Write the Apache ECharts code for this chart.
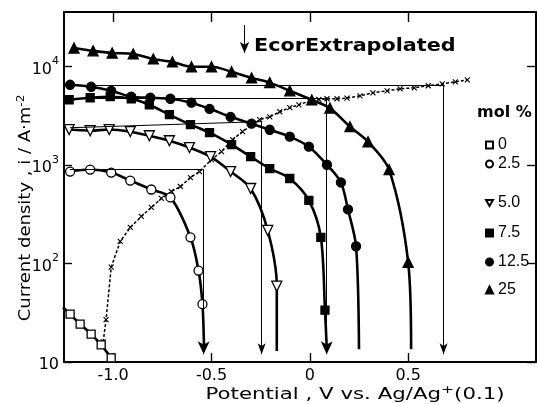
<!DOCTYPE html>
<html>
<head>
<meta charset="utf-8">
<script src="https://cdn.jsdelivr.net/npm/echarts@6/dist/echarts.min.js"></script>
<style>
  html, body { margin: 0; padding: 0; background: #fff; }
  #chart { width: 537px; height: 404px; }
</style>
</head>
<body>
<div id="chart"></div>
<script>
// Axis ticks
const xTicks = [-1.0, -0.5, 0, 0.5];
const xTickLabels = ['-1.0', '-0.5', '0', '0.5'];
const yTicks = [10, 100, 1000, 10000];

// Mole fraction of the additive, one curve each
const compositions = ['0', '2.5', '5.0', '7.5', '12.5', '25'];

// Measured points: [potential / V, current density / A m^-2]
const pts0 = [[-1.219, 30.6], [-1.168, 24.3], [-1.112, 19.2], [-1.061, 14.9], [-1.010, 11.0]];
const pts2_5 = [[-1.219, 861], [-1.117, 902], [-1.010, 841], [-0.913, 698], [-0.806, 566],
                [-0.709, 470], [-0.607, 185], [-0.566, 85], [-0.546, 38.7]];
const pts5_0 = [[-1.224, 2300], [-1.117, 2240], [-1.020, 2300], [-0.913, 2190], [-0.816, 1990],
                [-0.714, 1770], [-0.612, 1510], [-0.505, 1220], [-0.403, 861], [-0.301, 579],
                [-0.214, 217], [-0.168, 58.9]];
const pts7_5 = [[-1.224, 4620], [-1.117, 4840], [-1.015, 4960], [-0.908, 4730], [-0.816, 4110],
                [-0.714, 3260], [-0.607, 2580], [-0.510, 2140], [-0.398, 1620], [-0.301, 1220],
                [-0.204, 924], [-0.102, 732], [-0.005, 438], [0.056, 185], [0.077, 33.6]];
const pts12_5 = [[-1.219, 6560], [-1.112, 6260], [-1.010, 5700], [-0.908, 4960], [-0.811, 4840],
                 [-0.709, 4730], [-0.602, 4310], [-0.510, 3740], [-0.403, 3100], [-0.296, 2640],
                 [-0.204, 2290], [-0.102, 1950], [-0.005, 1540], [0.087, 1010], [0.158, 667],
                 [0.194, 355], [0.235, 150]];
const pts25 = [[-1.199, 15500], [-1.102, 14500], [-1.005, 13800], [-0.898, 13500], [-0.796, 12000],
               [-0.699, 11200], [-0.602, 10000], [-0.500, 10000], [-0.398, 8900], [-0.296, 7700],
               [-0.204, 6900], [-0.102, 5700], [0.010, 4600], [0.102, 3800], [0.204, 2460],
               [0.296, 1730], [0.403, 900], [0.500, 103]];

// Ends of the fitted curves beyond the measured points
const head0 = [-1.255, 36];
const tail0 = [-0.995, 10];
const tail2_5 = [-0.538, 14];
const tail5_0 = [-0.168, 12.9];
const tail7_5 = [0.086, 14];
const tail12_5 = [0.250, 13.5];
const tail25 = [0.515, 13.5];

// Corrosion potential locus (dashed, x marks)
const ecor = [[-1.051, 16], [-1.036, 27], [-1.010, 92], [-0.964, 168], [-0.913, 233], [-0.857, 301],
              [-0.806, 372], [-0.755, 459], [-0.704, 540], [-0.658, 607], [-0.607, 749], [-0.561, 861],
              [-0.500, 1140], [-0.449, 1370], [-0.393, 1820], [-0.342, 2190], [-0.255, 2900],
              [-0.204, 3100], [-0.153, 3490], [-0.102, 3840], [-0.056, 4100], [0.000, 4500],
              [0.046, 4650], [0.087, 4730], [0.138, 4730], [0.189, 4800], [0.255, 5070],
              [0.321, 5440], [0.393, 5700], [0.459, 5970], [0.531, 6110], [0.602, 6410],
              [0.673, 6710], [0.740, 7030], [0.801, 7360]];

// Limiting-current construction lines and extrapolated corrosion potentials
const guideStart = [[-1.22, 900], [-1.22, 2400], [-1.22, 4840], [-1.22, 6560]];
const guideEnd = [[-0.54, 900], [-0.245, 2770], [0.086, 4840], [0.68, 6560]];
const guideArrowTip = 12;
const noteArrow = [[-0.332, 26500], [-0.332, 13800]];

const FONT = '"Liberation Sans", Arial, sans-serif';
const WIDE = '"DejaVu Sans", sans-serif';

const curves = [
  [head0, ...pts0, tail0],
  [...pts2_5, tail2_5],
  [...pts5_0, tail5_0],
  [...pts7_5, tail7_5],
  [...pts12_5, tail12_5],
  [...pts25, tail25]
];
const markers = [pts0, pts2_5, pts5_0, pts7_5, pts12_5, pts25];
const DOWN_TRIANGLE = 'path://M0,0L12,0L6,10.4Z';
const symbols = [
  { symbol: 'rect', size: 8, fill: '#fff' },
  { symbol: 'circle', size: 9, fill: '#fff' },
  { symbol: DOWN_TRIANGLE, size: 10, fill: '#fff' },
  { symbol: 'rect', size: 8, fill: '#000' },
  { symbol: 'circle', size: 9, fill: '#000' },
  { symbol: 'triangle', size: 10, fill: '#000' }
];

const series = [];
curves.forEach((c, k) => {
  series.push({
    type: 'line', id: 'curve' + k, data: c, symbol: 'none', smooth: 0.3,
    lineStyle: { color: '#000', width: 2.6 }, silent: true, z: 3
  });
});
markers.forEach((m, k) => {
  const s = symbols[k];
  series.push({
    type: 'scatter', name: compositions[k], data: m,
    symbol: s.symbol, symbolSize: s.size,
    itemStyle: { color: s.fill, borderColor: '#000', borderWidth: 1.3, opacity: 1 },
    z: 4
  });
});

const guideLines = guideStart.map((p, k) => [
  { coord: p, symbol: 'none' },
  { coord: guideEnd[k], symbol: 'none' }
]);
const arrowLines = guideEnd.map((p, k) => [
  { coord: p, symbol: 'none' },
  { coord: [p[0], guideArrowTip], symbol: 'arrow', symbolSize: k === 0 || k === 2 ? [9, 13] : [6, 11] }
]);
const noteLine = [[
  { coord: noteArrow[0], symbol: 'none' },
  { coord: noteArrow[1], symbol: 'arrow', symbolSize: [7, 11] }
]];

series.push({
  type: 'line', id: 'ecor', data: ecor,
  symbol: 'path://M0,0L10,10M10,0L0,10', symbolSize: 5, showAllSymbol: true,
  itemStyle: { color: 'rgba(0,0,0,0)', borderColor: '#000', borderWidth: 1.1 },
  lineStyle: { color: '#000', width: 1.5, type: [3, 2] },
  silent: true, z: 2,
  markLine: {
    silent: true, animation: false,
    symbol: ['none', 'none'],
    label: { show: false },
    lineStyle: { color: '#000', width: 1, type: 'solid' },
    emphasis: { disabled: true },
    data: [...guideLines, ...arrowLines, ...noteLine]
  }
});

const legends = compositions.map((name, k) => ({
  data: [name], orient: 'vertical', left: 485, top: [137, 156, 195, 225, 254, 282][k],
  itemWidth: 7, itemHeight: 7, padding: 0, selectedMode: false,
  textStyle: { fontSize: 16, color: '#000', fontFamily: FONT }
}));

const frameLine = w => ({ show: true, onZero: false, lineStyle: { color: '#000', width: w } });

const chart = echarts.init(document.getElementById('chart'), null, { renderer: 'canvas' });
chart.setOption({
  animation: false,
  backgroundColor: '#fff',
  grid: { left: 64, right: 1, top: 12, bottom: 42 },
  xAxis: [
    {
      type: 'value', min: -1.25, max: 1.15, position: 'bottom',
      axisLine: frameLine(2.2),
      axisTick: { inside: true, length: 9, customValues: xTicks, lineStyle: { color: '#000', width: 1.4 } },
      axisLabel: {
        customValues: xTicks, color: '#000', fontSize: 16, fontFamily: WIDE, margin: 6,
        formatter: v => xTickLabels[xTicks.findIndex(t => Math.abs(t - v) < 1e-9)]
      },
      splitLine: { show: false }
    },
    {
      type: 'value', min: -1.25, max: 1.15, position: 'top',
      axisLine: frameLine(1.8),
      axisTick: { inside: true, length: 10, customValues: xTicks, lineStyle: { color: '#000', width: 1.4 } },
      axisLabel: { show: false }, splitLine: { show: false }
    }
  ],
  yAxis: [
    {
      type: 'log', logBase: 10, min: 10, max: 36000, position: 'left',
      axisLine: frameLine(2),
      axisTick: { show: true, inside: true, length: 8, customValues: yTicks, lineStyle: { color: '#000', width: 1.4 } },
      minorTick: { show: false },
      axisLabel: {
        customValues: yTicks, color: '#000', margin: 5,
        formatter: v => {
          const e = Math.round(Math.log10(v));
          return e === 1 ? '{b|10}' : '{b|10}{s|' + e + '}';
        },
        rich: {
          b: { fontSize: 16, fontFamily: WIDE, color: '#000', lineHeight: 22, verticalAlign: 'bottom' },
          s: { fontSize: 11, fontFamily: WIDE, color: '#000', lineHeight: 22, verticalAlign: 'top' }
        }
      },
      splitLine: { show: false }
    },
    {
      type: 'log', logBase: 10, min: 10, max: 36000, position: 'right',
      axisLine: frameLine(2),
      axisTick: { show: true, inside: true, length: 9, customValues: yTicks, lineStyle: { color: '#000', width: 1.4 } },
      minorTick: { show: false },
      axisLabel: { show: false }, splitLine: { show: false }
    }
  ],
  legend: legends,
  graphic: [
    {
      type: 'text', x: 26, y: 208, rotation: Math.PI / 2, scaleX: 1.2,
      style: {
        text: 'Current density , i / A·m{s|-2}',
        fontSize: 15, fontFamily: WIDE, fill: '#000', align: 'center', verticalAlign: 'middle',
        rich: { s: { fontSize: 10, fontFamily: WIDE, verticalAlign: 'top', lineHeight: 20 } }
      }
    },
    {
      type: 'text', x: 355, y: 395, scaleX: 1.42,
      style: {
        text: 'Potential , V vs. Ag/Ag{s|+}(0.1)',
        fontSize: 15, fontFamily: WIDE, fill: '#000', align: 'center', verticalAlign: 'middle',
        rich: { s: { fontSize: 11, fontFamily: WIDE, verticalAlign: 'top', lineHeight: 20 } }
      }
    },
    {
      type: 'text', x: 254, y: 47, scaleX: 1.22,
      style: {
        text: 'EcorExtrapolated', fontSize: 17, fontWeight: 'bold', fontFamily: WIDE,
        fill: '#000', align: 'left', verticalAlign: 'middle'
      }
    },
    {
      type: 'text', x: 477, y: 113,
      style: {
        text: 'mol %', fontSize: 16, fontWeight: 'bold', fontFamily: WIDE,
        fill: '#000', align: 'left', verticalAlign: 'middle'
      }
    }
  ],
  series: series
});
</script>
</body>
</html>
